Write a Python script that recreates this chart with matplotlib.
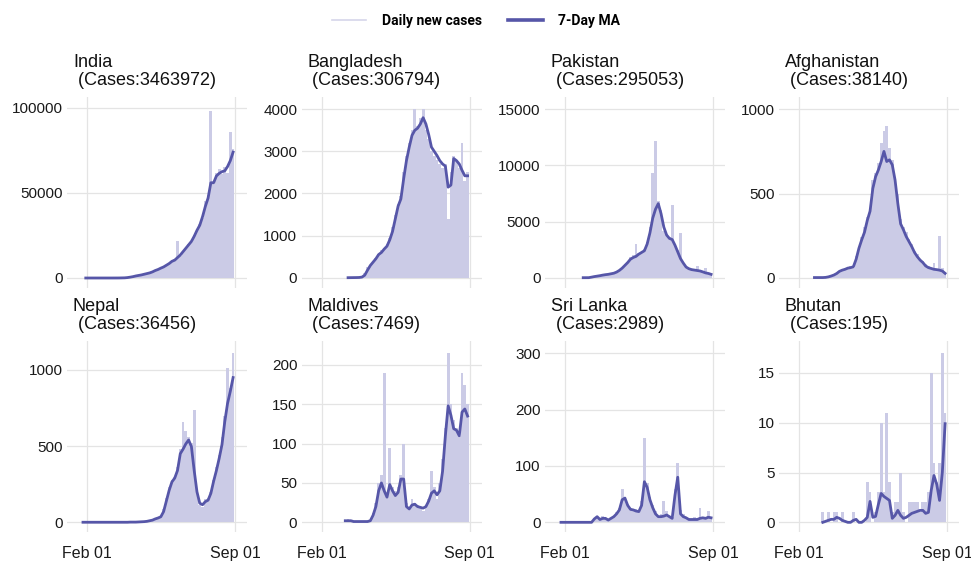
import numpy as np
import matplotlib
matplotlib.use("Agg")
import matplotlib.pyplot as plt
import matplotlib.dates as mdates
from matplotlib.lines import Line2D

# kraje i liczba przypadkow (tytuly paneli)
countries = ["India", "Bangladesh", "Pakistan", "Afghanistan",
			"Nepal", "Maldives", "Sri Lanka", "Bhutan"]
total_cases = [3463972, 306794, 295053, 38140, 36456, 7469, 2989, 195]

# pierwszy dzien serii, kolejne punkty co 4 dni
start_dates = ["2020-01-30", "2020-03-10", "2020-02-27", "2020-02-23",
			"2020-01-26", "2020-03-06", "2020-01-26", "2020-03-06"]
step_days = 4

# dzienne nowe przypadki
daily_india = [0, 0, 0, 0, 0, 0, 0, 0, 0, 0,
			3, 15, 25, 70, 90, 300, 450, 900, 1100, 1600,
			1700, 2400, 2500, 3200, 3500, 4600, 5200, 5600, 6900, 7200,
			8800, 9500, 11000, 22000, 13000, 16000, 17000, 20000, 21000, 25000,
			27500, 32000, 35000, 45000, 49000, 98000, 55000, 62000, 64000, 61000,
			65000, 62000, 86000, 76000]
daily_bangladesh = [3, 2, 4, 6, 15, 40, 110, 250, 310, 400,
			480, 570, 650, 700, 800, 950, 1200, 1500, 1750, 1950,
			2500, 2900, 3200, 3500, 4000, 3600, 3800, 4000, 3500, 3300,
			3000, 2900, 2800, 2700, 2600, 2700, 1400, 2500, 2900, 2800,
			2600, 3200, 2300, 2500]
daily_pakistan = [2, 0, 10, 70, 120, 160, 200, 250, 300, 280,
			400, 450, 550, 700, 900, 1200, 1400, 1800, 2000, 3000,
			2200, 2300, 2600, 3200, 4500, 9300, 12200, 6800, 6000, 4200,
			3900, 3600, 6500, 3000, 2500, 4000, 1200, 1000, 900, 800,
			750, 1000, 650, 550, 900, 400, 350]
daily_afghanistan = [1, 0, 0, 3, 4, 8, 15, 20, 30, 40,
			50, 55, 60, 70, 60, 130, 180, 240, 300, 360,
			400, 580, 620, 680, 800, 870, 900, 770, 700, 600,
			500, 350, 300, 270, 230, 200, 160, 140, 110, 100,
			80, 70, 60, 90, 50, 250, 60, 30]
daily_nepal = [0, 0, 0, 0, 0, 0, 0, 0, 0, 0, 0, 0, 0, 0, 0, 0, 0,
			2, 0, 1, 3, 4, 5, 8, 12, 20, 30,
			35, 40, 90, 160, 230, 280, 300, 360, 480, 660,
			600, 560, 520, 740, 220, 110, 100, 150, 160, 200,
			280, 360, 440, 560, 700, 1010, 880, 1110]
daily_maldives = [2, 4, 0, 1, 2, 0, 1, 2, 0, 3,
			12, 25, 50, 60, 190, 35, 95, 45, 40, 45,
			60, 100, 25, 18, 30, 25, 22, 20, 15, 22,
			30, 65, 45, 30, 50, 80, 120, 215, 150, 130,
			120, 110, 190, 175, 150]
daily_srilanka = [0, 0, 0, 0, 0, 0, 0, 0, 0, 0, 0, 0,
			8, 10, 4, 12, 5, 6, 8, 12, 18, 25,
			60, 45, 32, 25, 22, 24, 20, 38, 150, 70,
			45, 30, 20, 12, 15, 38, 20, 12, 10, 60,
			105, 22, 15, 10, 8, 6, 10, 8, 25, 10,
			9, 20, 10]
daily_bhutan = [1, 0, 1, 0, 1, 1, 0, 1, 0, 0,
			0, 1, 0, 0, 0, 0, 4, 3, 0, 1,
			3, 10, 3, 11, 4, 1, 2, 2, 5, 1,
			0, 2, 2, 2, 2, 1, 2, 2, 3, 15,
			6, 4, 6, 17, 11]

# srednia 7-dniowa
ma_india = [0, 0, 0, 0, 0, 0, 0, 0, 0, 0,
			5, 10, 20, 60, 100, 250, 500, 800, 1200, 1500,
			1800, 2200, 2600, 3000, 3600, 4400, 5000, 5800, 6500, 7500,
			8500, 9800, 10500, 12000, 13500, 15500, 17500, 19500, 21500, 24500,
			28000, 31000, 36000, 42000, 47000, 56000, 56000, 60000, 61500, 62500,
			63000, 65500, 69000, 74000]
ma_bangladesh = [1, 2, 3, 4, 6, 15, 60, 180, 290, 370,
			450, 550, 600, 680, 750, 900, 1100, 1400, 1700, 1870,
			2350, 2780, 3100, 3380, 3500, 3550, 3650, 3800, 3650, 3400,
			3100, 3000, 2900, 2780, 2700, 2650, 2150, 2200, 2830, 2780,
			2700, 2550, 2420, 2420]
ma_pakistan = [1, 2, 5, 50, 100, 140, 180, 230, 270, 300,
			350, 400, 500, 650, 850, 1100, 1350, 1650, 1800, 1900,
			2100, 2250, 2400, 3000, 4000, 5300, 6100, 6600, 5700, 4500,
			3800, 3500, 3400, 2900, 2300, 1700, 1300, 950, 800, 720,
			680, 640, 600, 520, 430, 380, 300]
ma_afghanistan = [1, 1, 1, 1, 2, 5, 10, 16, 25, 38,
			45, 50, 57, 60, 65, 110, 175, 225, 270, 340,
			395, 530, 600, 640, 690, 750, 690, 700, 670, 580,
			440, 320, 285, 245, 215, 185, 150, 125, 105, 90,
			70, 60, 55, 50, 48, 45, 40, 26]
ma_nepal = [0, 0, 0, 0, 0, 0, 0, 0, 0, 0, 0, 0, 0, 0, 0, 0, 0,
			1, 1, 1, 2, 3, 4, 6, 10, 14, 22,
			28, 36, 70, 140, 210, 265, 290, 340, 450, 480,
			515, 540, 497, 340, 200, 125, 115, 135, 145, 190,
			270, 340, 420, 510, 660, 780, 860, 950]
ma_maldives = [2, 2, 2, 1, 1, 1, 1, 1, 1, 2,
			9, 20, 40, 50, 40, 32, 48, 40, 34, 38,
			55, 55, 20, 17, 22, 23, 20, 19, 18, 20,
			27, 37, 40, 35, 40, 65, 110, 148, 136, 119,
			117, 110, 140, 144, 135]
ma_srilanka = [0, 0, 0, 0, 0, 0, 0, 0, 0, 0, 0, 0,
			6, 10, 5, 7, 7, 4, 7, 10, 15, 22,
			40, 43, 30, 23, 22, 20, 19, 30, 72, 62,
			40, 26, 15, 10, 10, 11, 13, 10, 7, 48,
			80, 15, 10, 8, 5, 5, 5, 5, 7, 8,
			7, 9, 8]
ma_bhutan = [0, 0.1, 0.2, 0.3, 0.3, 0.5, 0.4, 0.2, 0.1, 0,
			0, 0.2, 0.3, 0, 0, 0.2, 0.5, 2.1, 0.5, 0.6,
			1.8, 2.9, 2.6, 2.4, 2.2, 0.4, 0.7, 1.2, 0.7, 0.4,
			0.5, 0.7, 0.9, 1.0, 1.1, 1.2, 1.2, 0.9, 1.0, 3.2,
			4.7, 3.8, 2.2, 5.0, 9.9]

daily_all = [daily_india, daily_bangladesh, daily_pakistan, daily_afghanistan,
			daily_nepal, daily_maldives, daily_srilanka, daily_bhutan]
ma_all = [ma_india, ma_bangladesh, ma_pakistan, ma_afghanistan,
			ma_nepal, ma_maldives, ma_srilanka, ma_bhutan]

# podzialki osi y
y_ticks = [[0, 50000, 100000], [0, 1000, 2000, 3000, 4000], [0, 5000, 10000, 15000],
			[0, 500, 1000], [0, 500, 1000], [0, 50, 100, 150, 200],
			[0, 100, 200, 300], [0, 5, 10, 15]]
x_ticks = ["2020-02-01", "2020-09-01"]

# zakresy osi (dopasowane do oryginalu)
y_lims = [(-5880, 106400), (-244, 4291), (-917, 16095), (-61, 1073),
			(-64, 1190), (-12.3, 230.4), (-17.2, 321.8), (-0.97, 18.2)]
x_lim = ("2020-01-03", "2020-09-18")

BAR_COLOR = "#cbcbe6"
LINE_COLOR = "#5656a8"
GRID_COLOR = "#e4e4e4"


def draw():
	W, H = 971, 562
	fig = plt.figure(figsize=(W / 100, H / 100), dpi=100)

	lefts = [67, 301.5, 545, 779]
	tops = [97, 341]
	aw, ah = 180, 191

	for k, name in enumerate(countries):
		row, col = divmod(k, 4)
		ax = fig.add_axes([lefts[col] / W, 1 - (tops[row] + ah) / H, aw / W, ah / H])

		daily = daily_all[k]
		ma = ma_all[k]
		dates = np.datetime64(start_dates[k]) + np.arange(len(daily)) * step_days
		dates = mdates.date2num(dates.astype("datetime64[D]").astype(object))

		ax.bar(dates, daily, width=step_days, color=BAR_COLOR, linewidth=0, zorder=2)
		ax.plot(dates, ma, color=LINE_COLOR, lw=2.0, solid_joinstyle="round", zorder=3)

		ax.set_xlim(mdates.datestr2num(x_lim[0]), mdates.datestr2num(x_lim[1]))
		ax.set_ylim(*y_lims[k])
		ax.set_yticks(y_ticks[k])
		ax.set_xticks([mdates.datestr2num(d) for d in x_ticks])
		ax.xaxis.set_major_formatter(mdates.DateFormatter("%b %d"))

		ax.grid(True, color=GRID_COLOR, lw=0.9, zorder=0)
		ax.set_axisbelow(True)
		for s in ax.spines.values():
			s.set_visible(False)
		ax.tick_params(length=0, pad=3)
		for lab in ax.get_yticklabels():
			lab.set_fontfamily("Liberation Sans")
			lab.set_fontsize(11)
			lab.set_color("#1a1a1a")
		if row == 0:
			ax.tick_params(axis="x", labelbottom=False)
		else:
			ax.tick_params(axis="x", pad=10)
			for lab in ax.get_xticklabels():
				lab.set_fontfamily(["Liberation Sans Narrow", "Liberation Sans"])
				lab.set_fontsize(11.5)
				lab.set_color("#1a1a1a")

		ax.text(0.033, 1 + 8 / ah, "%s\n (Cases:%d)" % (name, total_cases[k]),
				transform=ax.transAxes, ha="left", va="bottom",
				fontsize=13, family="Liberation Sans", linespacing=1.1, color="#111111")

	# legenda u gory
	handles = [Line2D([], [], color="#d6d6ea", lw=1.2),
			Line2D([], [], color=LINE_COLOR, lw=2.6)]
	fig.legend(handles, ["Daily new cases", "7-Day MA"], loc="center",
			bbox_to_anchor=(0.49, 0.962), ncol=2, frameon=False,
			prop={"family": "Roboto", "weight": "bold", "size": 10},
			handlelength=2.5, handletextpad=1.1, columnspacing=1.9)

	fig.savefig("out.png", dpi=100)


if __name__ == "__main__":
	draw()
